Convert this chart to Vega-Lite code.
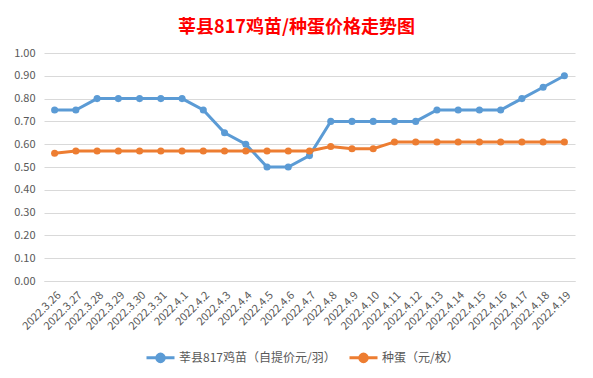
{
  "$schema": "https://vega.github.io/schema/vega-lite/v6.json",
  "width": 531,
  "height": 228,
  "autosize": {"type": "none"},
  "padding": {"left": 44, "top": 53, "right": 18, "bottom": 97},
  "background": "white",
  "title": {
    "text": "莘县817鸡苗/种蛋价格走势图",
    "color": "#FF0000",
    "font": "Noto Sans CJK SC",
    "fontSize": 18,
    "fontWeight": "bold",
    "anchor": "middle",
    "frame": "group",
    "baseline": "middle",
    "offset": 1,
    "dx": -13
  },
  "config": {
    "view": {"stroke": null},
    "font": "Noto Sans CJK SC"
  },
  "data": {
    "values": [
      {"date": "2022.3.26", "series": "莘县817鸡苗（自提价元/羽）", "price": 0.75},
      {"date": "2022.3.27", "series": "莘县817鸡苗（自提价元/羽）", "price": 0.75},
      {"date": "2022.3.28", "series": "莘县817鸡苗（自提价元/羽）", "price": 0.80},
      {"date": "2022.3.29", "series": "莘县817鸡苗（自提价元/羽）", "price": 0.80},
      {"date": "2022.3.30", "series": "莘县817鸡苗（自提价元/羽）", "price": 0.80},
      {"date": "2022.3.31", "series": "莘县817鸡苗（自提价元/羽）", "price": 0.80},
      {"date": "2022.4.1", "series": "莘县817鸡苗（自提价元/羽）", "price": 0.80},
      {"date": "2022.4.2", "series": "莘县817鸡苗（自提价元/羽）", "price": 0.75},
      {"date": "2022.4.3", "series": "莘县817鸡苗（自提价元/羽）", "price": 0.65},
      {"date": "2022.4.4", "series": "莘县817鸡苗（自提价元/羽）", "price": 0.60},
      {"date": "2022.4.5", "series": "莘县817鸡苗（自提价元/羽）", "price": 0.50},
      {"date": "2022.4.6", "series": "莘县817鸡苗（自提价元/羽）", "price": 0.50},
      {"date": "2022.4.7", "series": "莘县817鸡苗（自提价元/羽）", "price": 0.55},
      {"date": "2022.4.8", "series": "莘县817鸡苗（自提价元/羽）", "price": 0.70},
      {"date": "2022.4.9", "series": "莘县817鸡苗（自提价元/羽）", "price": 0.70},
      {"date": "2022.4.10", "series": "莘县817鸡苗（自提价元/羽）", "price": 0.70},
      {"date": "2022.4.11", "series": "莘县817鸡苗（自提价元/羽）", "price": 0.70},
      {"date": "2022.4.12", "series": "莘县817鸡苗（自提价元/羽）", "price": 0.70},
      {"date": "2022.4.13", "series": "莘县817鸡苗（自提价元/羽）", "price": 0.75},
      {"date": "2022.4.14", "series": "莘县817鸡苗（自提价元/羽）", "price": 0.75},
      {"date": "2022.4.15", "series": "莘县817鸡苗（自提价元/羽）", "price": 0.75},
      {"date": "2022.4.16", "series": "莘县817鸡苗（自提价元/羽）", "price": 0.75},
      {"date": "2022.4.17", "series": "莘县817鸡苗（自提价元/羽）", "price": 0.80},
      {"date": "2022.4.18", "series": "莘县817鸡苗（自提价元/羽）", "price": 0.85},
      {"date": "2022.4.19", "series": "莘县817鸡苗（自提价元/羽）", "price": 0.90},
      {"date": "2022.3.26", "series": "种蛋（元/枚）", "price": 0.56},
      {"date": "2022.3.27", "series": "种蛋（元/枚）", "price": 0.57},
      {"date": "2022.3.28", "series": "种蛋（元/枚）", "price": 0.57},
      {"date": "2022.3.29", "series": "种蛋（元/枚）", "price": 0.57},
      {"date": "2022.3.30", "series": "种蛋（元/枚）", "price": 0.57},
      {"date": "2022.3.31", "series": "种蛋（元/枚）", "price": 0.57},
      {"date": "2022.4.1", "series": "种蛋（元/枚）", "price": 0.57},
      {"date": "2022.4.2", "series": "种蛋（元/枚）", "price": 0.57},
      {"date": "2022.4.3", "series": "种蛋（元/枚）", "price": 0.57},
      {"date": "2022.4.4", "series": "种蛋（元/枚）", "price": 0.57},
      {"date": "2022.4.5", "series": "种蛋（元/枚）", "price": 0.57},
      {"date": "2022.4.6", "series": "种蛋（元/枚）", "price": 0.57},
      {"date": "2022.4.7", "series": "种蛋（元/枚）", "price": 0.57},
      {"date": "2022.4.8", "series": "种蛋（元/枚）", "price": 0.59},
      {"date": "2022.4.9", "series": "种蛋（元/枚）", "price": 0.58},
      {"date": "2022.4.10", "series": "种蛋（元/枚）", "price": 0.58},
      {"date": "2022.4.11", "series": "种蛋（元/枚）", "price": 0.61},
      {"date": "2022.4.12", "series": "种蛋（元/枚）", "price": 0.61},
      {"date": "2022.4.13", "series": "种蛋（元/枚）", "price": 0.61},
      {"date": "2022.4.14", "series": "种蛋（元/枚）", "price": 0.61},
      {"date": "2022.4.15", "series": "种蛋（元/枚）", "price": 0.61},
      {"date": "2022.4.16", "series": "种蛋（元/枚）", "price": 0.61},
      {"date": "2022.4.17", "series": "种蛋（元/枚）", "price": 0.61},
      {"date": "2022.4.18", "series": "种蛋（元/枚）", "price": 0.61},
      {"date": "2022.4.19", "series": "种蛋（元/枚）", "price": 0.61}
    ]
  },
  "encoding": {
    "x": {
      "field": "date",
      "type": "ordinal",
      "sort": null,
      "scale": {"type": "point", "padding": 0.5},
      "axis": {
        "title": null,
        "labelAngle": -45,
        "labelColor": "#595959",
        "labelFontSize": 11,
        "labelPadding": 8,
        "ticks": false,
        "domainColor": "#d9d9d9",
        "grid": false
      }
    },
    "y": {
      "field": "price",
      "type": "quantitative",
      "scale": {"domain": [0, 1], "nice": false, "zero": true},
      "axis": {
        "title": null,
        "values": [0, 0.1, 0.2, 0.3, 0.4, 0.5, 0.6, 0.7, 0.8, 0.9, 1.0],
        "format": ".2f",
        "labelColor": "#595959",
        "labelFontSize": 11,
        "labelPadding": 9,
        "ticks": false,
        "domain": false,
        "gridColor": "#d9d9d9"
      }
    },
    "color": {
      "field": "series",
      "type": "nominal",
      "sort": null,
      "scale": {
        "domain": ["莘县817鸡苗（自提价元/羽）", "种蛋（元/枚）"],
        "range": ["#5B9BD5", "#ED7D31"]
      },
      "legend": {
        "title": null,
        "orient": "none",
        "legendX": 101,
        "legendY": 289,
        "direction": "horizontal",
        "labelColor": "#595959",
        "labelFontSize": 12,
        "labelOffset": 3,
        "columnPadding": 7,
        "symbolType": "M-1,0H1M-0.27,0A0.27,0.27,0,1,0,0.27,0A0.27,0.27,0,1,0,-0.27,0Z",
        "symbolSize": 784,
        "symbolStrokeWidth": 3,
        "encode": {
          "symbols": {
            "update": {
              "fill": {"scale": "color", "field": "value"},
              "stroke": {"scale": "color", "field": "value"}
            }
          }
        }
      }
    }
  },
  "layer": [
    {"mark": {"type": "line", "strokeWidth": 3}},
    {"mark": {"type": "point", "filled": true, "size": 50, "opacity": 1}}
  ]
}
